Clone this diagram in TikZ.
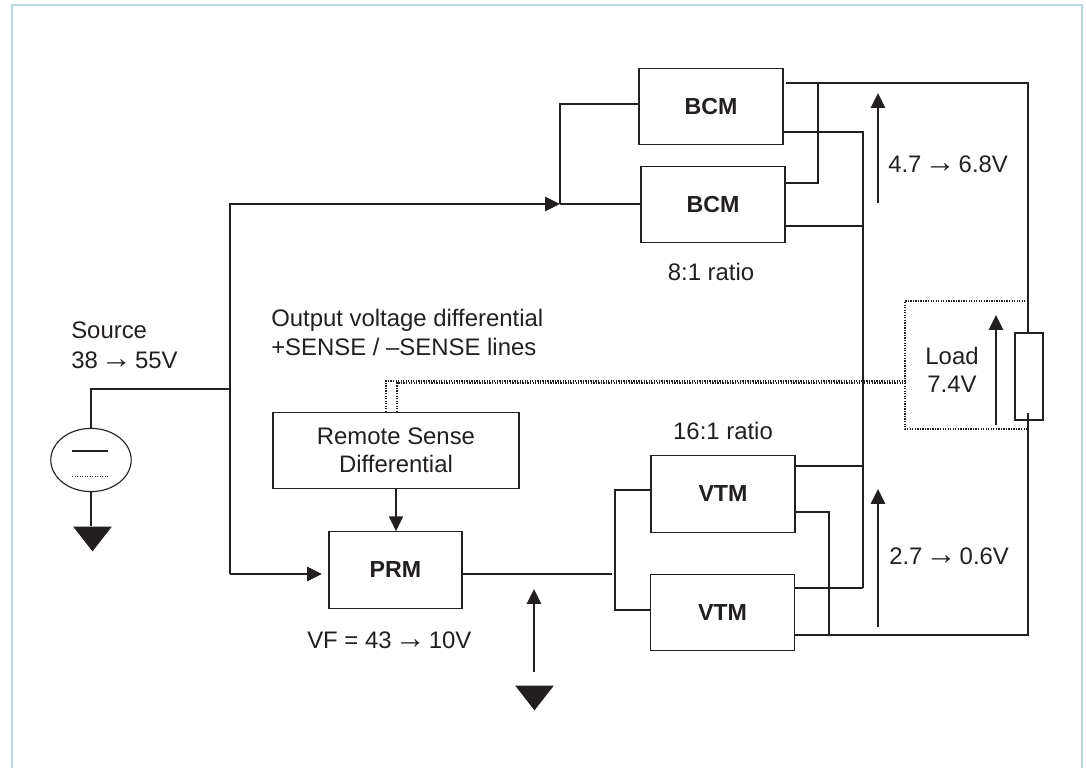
\documentclass[tikz,border=0pt]{standalone}
\usepackage{fontspec}
\setmainfont{Liberation Sans}
\usepackage{xcolor}
\usetikzlibrary{
  arrows.meta,
  shapes.geometric
}
\definecolor{WireInk}{HTML}{231F20}
\definecolor{FrameBlue}{HTML}{BDD5DC}
\newcommand{\rarr}{\kern-2.5pt{\fontsize{22}{22}\selectfont →}\kern-2.5pt}

\begin{document}
\begin{tikzpicture}[
  x=0.025cm,
  y=-0.025cm,
  font=\fontsize{17}{20}\selectfont,
  text=WireInk,
  >={Triangle[length=10.5pt,width=10pt]},
  module/.style={
    rectangle,
    draw=WireInk,
    fill=white,
    minimum width=3.60cm,
    minimum height=1.91cm,
    inner sep=0pt,
    align=center,
    line width=0.95pt,
    font=\fontsize{16.5}{20}\selectfont\bfseries
  },
  label/.style={inner sep=0pt,anchor=base west},
  wire/.style={draw=WireInk,line width=0.95pt},
  feed/.style={->,draw=WireInk,line width=1.25pt},
  sense/.style={draw=WireInk,line width=0.9pt,dash pattern=on 0.9pt off 0.9pt},
  earth/.style={
    isosceles triangle,
    isosceles triangle apex angle=76,
    shape border rotate=-90,
    fill=WireInk,
    draw=none,
    minimum height=0.62cm,
    inner sep=0pt
  }
]

\useasboundingbox (0,0) rectangle (1086,768);
\draw[draw=FrameBlue,line width=1.6pt] (12,768) |- (1082,5) -- (1082,768);

% modules
\node[module] (bcmA) at (711,106.5) {BCM};
\node[module] (bcmB) at (713,204.5) {BCM};
\node[module] (vtmA) at (723,494) {VTM};
\node[module] (vtmB) at (722.5,612.5) {VTM};
\node[module,minimum width=3.32cm] (prm) at (395.5,570) {PRM};
\node[module,minimum width=6.15cm,font=\fontsize{17}{20}\selectfont] (remote) at (396,450.5)
  {Remote Sense\\Differential};
\node[module,minimum width=0.70cm,minimum height=2.18cm] (resistor) at (1029,376.5) {};
\node[draw=WireInk,line width=0.8pt,ellipse,minimum width=2.01cm,minimum height=1.58cm,inner sep=0pt] (source) at (91,460) {};
\node[earth] (earthA) at (92.5,536) {};
\node[earth] (earthB) at (534.5,695) {};

% junctions
\coordinate (busIn) at (230,204);
\coordinate (busOut) at (230,574);
\coordinate (tapSource) at (230,389);
\coordinate (tapBcm) at (560,204);
\coordinate (tapPrm) at (322,574);
\coordinate (tapVtm) at (615,574);
\coordinate (railTop) at (1028,83);
\coordinate (railBot) at (1028,635);
\coordinate (railMid) at (863,588);
\coordinate (linkTop) at (818,183);
\coordinate (linkBot) at (829,512);

% source side
\draw[wire] (source.north) |- (tapSource);
\draw[wire] (source.south) -- (earthA.north -| source.south);
\draw[wire] (72,451) -- (108,451);
\draw[line width=0.7pt,draw=WireInk,dash pattern=on 0.8pt off 1pt] (72,476) -- (108,476);
\draw[feed] (busOut) -- (busIn) -- (tapBcm);
\draw[feed] (busOut) -- (tapPrm);
\draw[feed] (remote.south) -- (prm.north -| remote.south);
\draw[wire] (tapBcm) -- (bcmB.west |- tapBcm);
\draw[wire] (tapBcm) |- (bcmA.west |- 0,104);

% PRM to VTM
\draw[wire] (prm.east |- tapVtm) -- (612,574);
\draw[wire] (vtmA.west |- 0,490) -| (tapVtm) |- (vtmB.west |- 0,610);

% BCM outputs
\draw[wire] (bcmA.east |- railTop) ++(2,0) -- (railTop) -- (resistor.north -| railTop);
\draw[wire] (bcmB.east |- linkTop) -| (818,83);
\draw[wire] (bcmA.east |- 0,132) -| (railMid);
\draw[wire] (bcmB.east |- 0,226) -- (863,226);

% VTM outputs
\draw[wire] (vtmA.east |- 0,466) -- (863,466);
\draw[wire] (vtmB.east |- railMid) -- (railMid);
\draw[wire] (vtmA.east |- linkBot) -| (829,635);
\draw[wire] (vtmB.east |- railBot) -- (railBot) -- (1028,413);

% sense lines
\draw[sense] (386,412) |- (905,381);
\draw[sense] (397,412) |- (905,383);
\draw[sense] (1028,301) -| (905,429) -- (1028,429);

% voltage arrows
\draw[feed] (878,203) -- (878,93);
\draw[feed] (878,627) -- (878,489);
\draw[feed] (996,425) -- (996,315);
\draw[feed] (534,672) -- (534,589);

% labels
\node[label] (lblSource) at (71,338) {Source};
\node[label] (lblSourceV) at (71,368) {38 \rarr{} 55V};
\node[label] (lblOutput) at (271,326) {Output voltage differential};
\node[label] (lblSense) at (271,355) {+SENSE / –SENSE lines};
\node[label] (lblVf) at (307,648) {VF = 43 \rarr{} 10V};
\node[label] (lblBcmV) at (888,173) {4.7 \rarr{} 6.8V};
\node[label] (lblVtmV) at (889,564) {2.7 \rarr{} 0.6V};
\node[label,anchor=base] (lblBcm) at (711,280) {8:1 ratio};
\node[label,anchor=base] (lblVtm) at (723,439) {16:1 ratio};
\node[label,anchor=base] (lblLoad) at (952,364) {Load};
\node[label,anchor=base] (lblLoadV) at (952,392) {7.4V};
\end{tikzpicture}
\end{document}
